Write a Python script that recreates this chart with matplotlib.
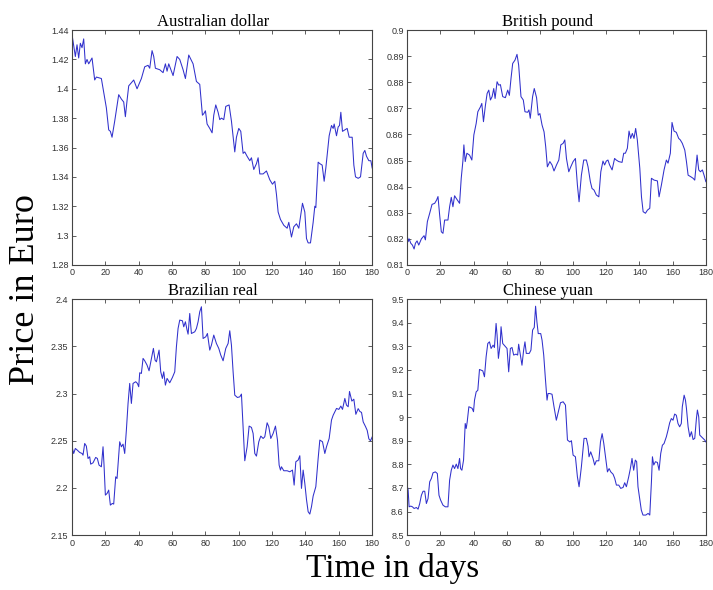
import matplotlib
matplotlib.use("Agg")
import matplotlib.pyplot as plt
from matplotlib.ticker import FuncFormatter, MultipleLocator

# daily exchange rates against the euro over half a year
aud_days = [0, 2, 3, 4, 5, 6, 7, 8, 9, 10, 12, 13.6, 14.6, 17.6, 20.6, 22, 23, 24, 25.6, 28,
            29.6, 31, 32, 33, 34, 37, 39, 41.6, 43.6, 45.6, 46.6, 48, 49, 50, 52.6, 54.6, 56, 57, 58, 60.6,
            63, 64.6, 66.6, 68, 70, 72.6, 74.6, 76.6, 78.2, 79, 80, 81, 82.6, 84, 85, 86.2, 87.6, 88.6, 89.6, 91,
            92.2, 94.2, 95.6, 97.6, 98.6, 100, 101.2, 102.6, 103.6, 105, 106.6, 107.6, 109, 110.6, 111.6, 112.6,
            114.6, 116.6, 118.6, 120.2, 121.6, 122.6, 123.6, 125, 127, 129, 130, 131.6, 133, 134.6, 136, 138.2,
            139.6, 140.6, 141.6, 143, 144.6, 145.6, 146.2, 147.6, 148.6, 150, 151.2, 152.2, 154.2, 155.6, 156.6,
            157.2, 158.6, 159.6, 160.4, 161.2, 162.2, 163.6, 165, 166.2, 168, 169, 170, 171.6, 173, 174.6, 175.6,
            176.6, 178, 179.2, 180]
aud_vals = [1.437, 1.422, 1.430, 1.421, 1.431, 1.428, 1.434, 1.417, 1.420, 1.417, 1.421, 1.406, 1.408, 1.407,
            1.387, 1.372, 1.371, 1.367, 1.378, 1.396, 1.393, 1.391, 1.381, 1.392, 1.402, 1.406, 1.400, 1.407,
            1.415, 1.416, 1.414, 1.426, 1.422, 1.414, 1.413, 1.411, 1.417, 1.412, 1.417, 1.409, 1.422, 1.420,
            1.413, 1.407, 1.423, 1.417, 1.405, 1.403, 1.382, 1.383, 1.385, 1.376, 1.373, 1.370, 1.382, 1.389,
            1.384, 1.379, 1.380, 1.379, 1.388, 1.389, 1.378, 1.357, 1.367, 1.373, 1.371, 1.356, 1.357, 1.354,
            1.351, 1.353, 1.345, 1.349, 1.353, 1.342, 1.342, 1.344, 1.338, 1.335, 1.337, 1.328, 1.316, 1.311,
            1.307, 1.305, 1.309, 1.299, 1.306, 1.308, 1.305, 1.322, 1.316, 1.298, 1.295, 1.295, 1.309, 1.320,
            1.319, 1.350, 1.349, 1.348, 1.337, 1.346, 1.368, 1.375, 1.373, 1.376, 1.368, 1.374, 1.375, 1.384,
            1.371, 1.372, 1.373, 1.367, 1.367, 1.348, 1.340, 1.339, 1.340, 1.356, 1.358, 1.354, 1.351, 1.351,
            1.346]

gbp_days = [0, 0.6, 1.2, 2.2, 3.2, 4.2, 5, 6, 7, 8.6, 10.2, 11, 12.2, 13.6, 15, 16.6, 17.8, 18.6, 19.6, 20.6,
            21.6, 22.6, 24.6, 25.6, 26.6, 27.6, 28.6, 29.6, 31.6, 32.6, 33.6, 34.2, 35, 36, 37.6, 39, 40.2, 41.6,
            42.6, 44.2, 45, 46, 47.2, 48.2, 49.2, 50.2, 51.2, 52.2, 53, 54.2, 55.2, 56.2, 57.6, 59.2, 60.6, 61.6,
            62.6, 63.6, 65, 66.2, 67.2, 68.6, 70, 71, 72.6, 73.4, 74.2, 75.6, 76.6, 78, 79, 80, 81.3, 82.5, 83.5,
            84.5, 86, 87.3, 88.5, 90, 91.4, 92.6, 94, 95, 96, 97.4, 98.6, 100, 101.4, 102.6, 103.6, 105, 106.4,
            108, 109, 110.4, 111.4, 112.6, 114, 115.5, 116.7, 118, 119, 120, 121, 122, 123.5, 125, 126, 127.5,
            129.5, 130.5, 131.5, 132.7, 133.7, 134.7, 135.7, 136.7, 137.7, 138.7, 140.2, 141.2, 142.2, 143.6,
            144.8, 146.2, 147.2, 148.8, 150.8, 151.8, 153.2, 154.8, 156.2, 157.2, 158.6, 159.6, 160.8, 162.2,
            163.6, 164.6, 165.8, 167.3, 168.3, 169.3, 170.9, 172.3, 173.3, 174.7, 175.7, 176.7, 177.9, 178.9, 180]
gbp_vals = [0.8217, 0.8189, 0.8200, 0.8183, 0.8176, 0.8161, 0.8183, 0.8192, 0.8176, 0.8200, 0.8212, 0.8196,
            0.8266, 0.8298, 0.8332, 0.8336, 0.8349, 0.8362, 0.8291, 0.8227, 0.8221, 0.8272, 0.8272, 0.8323,
            0.8359, 0.8323, 0.8365, 0.8355, 0.8336, 0.8432, 0.8498, 0.8560, 0.8496, 0.8528, 0.8521, 0.8502,
            0.8598, 0.8642, 0.8687, 0.8706, 0.8719, 0.8649, 0.8713, 0.8757, 0.8770, 0.8732, 0.8745, 0.8776,
            0.8738, 0.8802, 0.8789, 0.8791, 0.8745, 0.8741, 0.8770, 0.8750, 0.8815, 0.8872, 0.8885, 0.8907,
            0.8866, 0.8745, 0.8732, 0.8687, 0.8685, 0.8694, 0.8662, 0.8745, 0.8776, 0.8741, 0.8674, 0.8680,
            0.8636, 0.8610, 0.8553, 0.8476, 0.8496, 0.8483, 0.8460, 0.8483, 0.8502, 0.8560, 0.8566, 0.8579,
            0.8508, 0.8457, 0.8476, 0.8496, 0.8508, 0.8406, 0.8342, 0.8444, 0.8502, 0.8502, 0.8476, 0.8419,
            0.8393, 0.8387, 0.8368, 0.8361, 0.8457, 0.8498, 0.8483, 0.8498, 0.8502, 0.8483, 0.8464, 0.8508,
            0.8502, 0.8496, 0.8493, 0.8528, 0.8528, 0.8547, 0.8613, 0.8585, 0.8604, 0.8585, 0.8623, 0.8579,
            0.8470, 0.8361, 0.8304, 0.8298, 0.8310, 0.8317, 0.8432, 0.8425, 0.8422, 0.8361, 0.8406, 0.8464,
            0.8502, 0.8490, 0.8528, 0.8646, 0.8613, 0.8608, 0.8585, 0.8579, 0.8566, 0.8540, 0.8496, 0.8444,
            0.8438, 0.8432, 0.8425, 0.8521, 0.8464, 0.8457, 0.8464, 0.8444, 0.8419]

brl_days = [0, 1, 2, 3.2, 4.6, 6, 6.6, 7.6, 8.6, 9.6, 10.6, 11.2, 12.6, 14.2, 15.2, 16.2, 17.6, 18.6, 19.2, 20,
            21, 22, 23, 24.2, 25, 26.2, 27, 28.6, 29.6, 30.6, 31.6, 32.6, 33.6, 34.6, 35.6, 36.6, 38.2, 39.2, 40,
            40.6, 41.6, 42.6, 43.6, 45, 46.2, 47.6, 48.8, 49.8, 50.6, 52.2, 53.2, 54.2, 55, 56, 57, 58.6, 60.2,
            61.6, 62.6, 63.6, 64.6, 66.2, 67, 68, 69, 69.6, 70.6, 71.6, 73.6, 74.6, 75.6, 76.6, 77.6, 78.6, 80.2,
            81.2, 82.6, 83.6, 85, 86.6, 88, 89.2, 90.6, 92.2, 93.6, 94.6, 95.6, 96.6, 97.6, 99.2, 100.6, 101.6,
            102.6, 103.6, 105, 106.2, 107.6, 108.6, 109.6, 110.6, 112, 113.2, 114.6, 115.6, 117, 118, 119.2,
            120.6, 122, 123.2, 124.2, 125, 125.6, 127, 129, 130.6, 132.2, 133.2, 134.2, 135.6, 136.6, 137.6,
            138.6, 139.6, 140.6, 141.6, 142.6, 143.6, 144.6, 146.2, 147.6, 148.6, 150.2, 151.6, 152.6, 154.2,
            155.6, 156.6, 157.6, 158.6, 160, 161.2, 162.2, 163.6, 164.6, 165.6, 166.4, 167, 167.8, 169, 170.2,
            171.6, 172.6, 173.6, 174.6, 176, 177, 178, 179, 180]
brl_vals = [2.2436, 2.2365, 2.2418, 2.2400, 2.2376, 2.2365, 2.2347, 2.2471, 2.2443, 2.2312, 2.2330, 2.2252,
            2.2266, 2.2323, 2.2312, 2.2242, 2.2224, 2.2436, 2.2242, 2.1924, 2.1941, 2.1977, 2.1818, 2.1836,
            2.1829, 2.2118, 2.2100, 2.2489, 2.2436, 2.2464, 2.2365, 2.2613, 2.2895, 2.3107, 2.2895, 2.3107,
            2.3125, 2.3107, 2.3072, 2.3220, 2.3213, 2.3372, 2.3347, 2.3301, 2.3241, 2.3372, 2.3478, 2.3354,
            2.3336, 2.3460, 2.3230, 2.3160, 2.3230, 2.3089, 2.3160, 2.3114, 2.3170, 2.3230, 2.3495, 2.3689,
            2.3778, 2.3771, 2.3707, 2.3760, 2.3672, 2.3629, 2.3848, 2.3636, 2.3654, 2.3689, 2.3760, 2.3866,
            2.3919, 2.3583, 2.3601, 2.3636, 2.3460, 2.3513, 2.3619, 2.3530, 2.3478, 2.3407, 2.3347, 2.3478,
            2.3530, 2.3665, 2.3513, 2.3230, 2.2983, 2.2958, 2.2965, 2.2994, 2.2648, 2.2288, 2.2436, 2.2655,
            2.2641, 2.2577, 2.2365, 2.2337, 2.2489, 2.2549, 2.2524, 2.2542, 2.2690, 2.2648, 2.2524, 2.2577,
            2.2655, 2.2507, 2.2242, 2.2189, 2.2224, 2.2182, 2.2182, 2.2171, 2.2189, 2.2030, 2.2277, 2.2295,
            2.2341, 2.1995, 2.2189, 2.2048, 2.1878, 2.1748, 2.1723, 2.1801, 2.1914, 2.2013, 2.2313, 2.2507,
            2.2489, 2.2365, 2.2436, 2.2524, 2.2719, 2.2770, 2.2807, 2.2842, 2.2832, 2.2867, 2.2832, 2.2948,
            2.2877, 2.2860, 2.3022, 2.2980, 2.2920, 2.2940, 2.2780, 2.2840, 2.2810, 2.2800, 2.2700, 2.2650,
            2.2610, 2.2520, 2.2500, 2.2540]

cny_days = [0, 0.6, 1.2, 2.2, 3.2, 4.2, 5.6, 6.6, 7.6, 8.6, 9.6, 10.6, 11.6, 12.6, 13.6, 14.6, 15.6, 17, 18.2,
            19.2, 20.2, 21.6, 23, 24.6, 25.6, 26.6, 27.6, 28.6, 29.6, 30.6, 31.6, 32.2, 33, 34, 35, 35.6, 36.2,
            37.2, 38.2, 39.2, 40, 40.6, 41.6, 42.6, 43.6, 44.6, 45.6, 46.6, 47.6, 48.6, 49.6, 50.6, 51.8, 52.6,
            53.6, 54.2, 55, 56, 56.6, 57.6, 59, 60.2, 61.2, 62.2, 63.2, 64.2, 65.6, 66.6, 67.2, 68.2, 69.2, 70.2,
            71, 71.8, 73.6, 74.6, 75.6, 76.6, 77.4, 78.2, 79, 80.5, 81.3, 82.3, 83.3, 84.3, 84.9, 85.9, 87.3,
            88.5, 89.9, 90.9, 92.4, 94, 95.4, 96.6, 98, 99, 100, 101.4, 102.6, 103.6, 105, 106.6, 108, 109,
            109.6, 110.6, 112, 113, 114, 115.5, 116.5, 117.5, 118.5, 119.5, 120.7, 121.7, 122.7, 124.1, 125.1,
            126.1, 127.5, 128.7, 130.1, 131.1, 132.1, 133.5, 134.5, 135.5, 136.5, 137.5, 138.3, 139.1, 140.1,
            141.1, 142.1, 143.8, 145.2, 146.2, 147.2, 147.8, 148.6, 149.6, 150.8, 151.8, 152.8, 153.8, 154.8,
            156.2, 157.2, 158.2, 159.2, 160.2, 161.2, 162.2, 163.2, 164.2, 165.2, 165.8, 166.9, 167.7, 168.3,
            169.3, 170.3, 171.3, 172.3, 173.3, 174.3, 174.9, 175.7, 176.3, 177.3, 178.3, 179.3, 180]
cny_vals = [8.712, 8.691, 8.620, 8.623, 8.620, 8.613, 8.617, 8.610, 8.634, 8.669, 8.686, 8.686, 8.634, 8.655,
            8.726, 8.740, 8.764, 8.768, 8.761, 8.669, 8.648, 8.627, 8.620, 8.620, 8.733, 8.775, 8.797, 8.782,
            8.801, 8.782, 8.825, 8.782, 8.775, 8.818, 8.973, 8.952, 8.980, 9.044, 9.041, 9.037, 9.023, 9.072,
            9.107, 9.114, 9.202, 9.199, 9.196, 9.171, 9.256, 9.312, 9.319, 9.291, 9.305, 9.295, 9.397, 9.348,
            9.249, 9.305, 9.383, 9.312, 9.301, 9.291, 9.192, 9.291, 9.295, 9.263, 9.267, 9.263, 9.309, 9.263,
            9.220, 9.284, 9.319, 9.270, 9.270, 9.284, 9.369, 9.380, 9.470, 9.404, 9.354, 9.354, 9.326, 9.263,
            9.164, 9.072, 9.100, 9.100, 9.097, 9.044, 8.987, 9.016, 9.061, 9.065, 9.051, 8.903, 8.895, 8.900,
            8.839, 8.832, 8.747, 8.705, 8.790, 8.910, 8.910, 8.877, 8.832, 8.853, 8.825, 8.797, 8.815, 8.815,
            8.895, 8.930, 8.888, 8.832, 8.768, 8.782, 8.768, 8.758, 8.740, 8.712, 8.712, 8.698, 8.702, 8.722,
            8.705, 8.747, 8.782, 8.825, 8.775, 8.818, 8.811, 8.705, 8.655, 8.606, 8.585, 8.585, 8.592, 8.585,
            8.726, 8.832, 8.797, 8.811, 8.808, 8.775, 8.846, 8.881, 8.888, 8.917, 8.945, 8.976, 8.994, 8.987,
            9.013, 9.008, 8.973, 8.959, 8.973, 9.044, 9.093, 9.072, 9.037, 8.959, 8.917, 8.938, 8.905, 8.910,
            8.994, 9.030, 9.001, 8.924, 8.917, 8.910, 8.903, 8.895]

titles = ["Australian dollar", "British pound", "Brazilian real", "Chinese yuan"]
y_limits = [(1.28, 1.44), (0.81, 0.90), (2.15, 2.40), (8.5, 9.5)]
y_steps = [0.02, 0.01, 0.05, 0.1]
x_ticks = list(range(0, 181, 20))

LINE_COLOR = "#3030cc"
SERIF = ["Liberation Serif", "DejaVu Serif"]


def style_axes(ax, title, ylim, ystep):
    ax.set_xlim(0, 180)
    ax.set_ylim(*ylim)
    ax.set_xticks(x_ticks)
    ax.yaxis.set_major_locator(MultipleLocator(ystep))
    ax.yaxis.set_major_formatter(FuncFormatter(lambda v, pos: f"{round(v, 4):g}"))
    ax.tick_params(direction="in", length=3, width=0.6, top=True, right=True,
                   labelsize=6.5, labelcolor="#333333", pad=2.5, colors="#444444")
    for spine in ax.spines.values():
        spine.set_color("#444444")
        spine.set_linewidth(0.8)
    ax.set_title(title, family=SERIF, fontsize=12, pad=3, x=0.47)


def main():
    plt.rcParams["font.family"] = ["Liberation Sans", "DejaVu Sans"]
    fig = plt.figure(figsize=(7.13, 5.90), dpi=100)

    # axes boxes in figure fractions: left, bottom, width, height
    boxes = [
        (0.101, 0.551, 0.421, 0.398),
        (0.571, 0.551, 0.419, 0.398),
        (0.101, 0.093, 0.421, 0.400),
        (0.571, 0.093, 0.419, 0.400),
    ]
    series = [(aud_days, aud_vals), (gbp_days, gbp_vals), (brl_days, brl_vals), (cny_days, cny_vals)]

    for box, (days, vals), title, ylim, ystep in zip(boxes, series, titles, y_limits, y_steps):
        ax = fig.add_axes(box)
        ax.plot(days, vals, color=LINE_COLOR, linewidth=0.75)
        style_axes(ax, title, ylim, ystep)

    fig.text(0.036, 0.51, "Price in Euro", family=SERIF, fontsize=26,
             rotation=90, ha="center", va="center")
    fig.text(0.551, 0.036, "Time in days", family=SERIF, fontsize=24,
             ha="center", va="center")

    fig.savefig("out.png", dpi=100)


if __name__ == "__main__":
    main()
